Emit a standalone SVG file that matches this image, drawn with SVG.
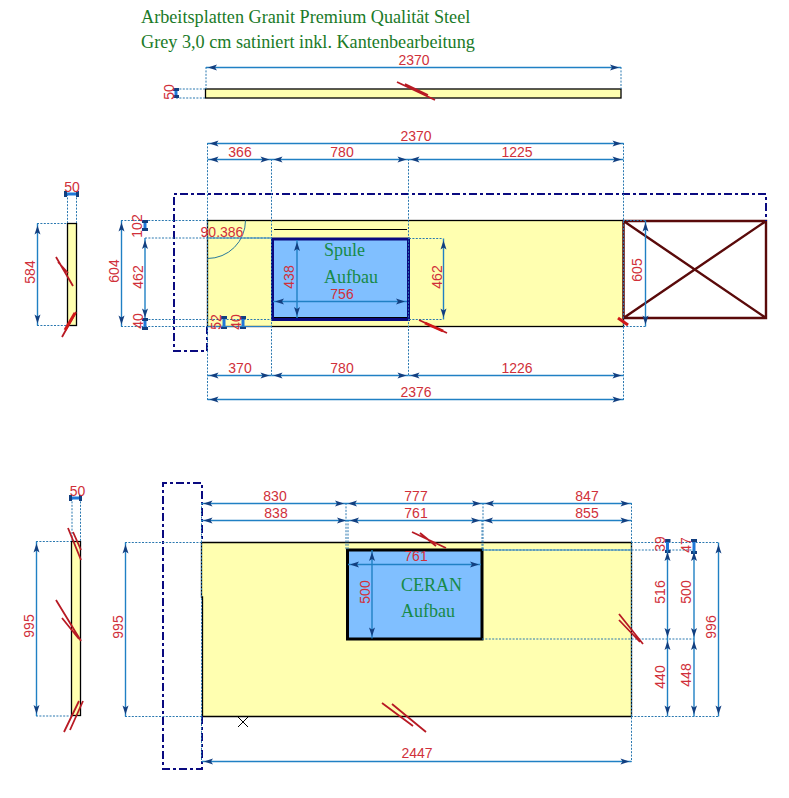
<svg xmlns="http://www.w3.org/2000/svg" width="789" height="798" viewBox="0 0 789 798">
<style>
.slab{fill:#ffffb0;stroke:#000;stroke-width:1.3}
.cut{fill:#80bfff}
.dim{fill:none;stroke:#2080c4;stroke-width:1.4;marker-start:url(#a);marker-end:url(#a)}
.sd{fill:none;stroke:#1f78d8;stroke-width:3;marker-start:url(#k);marker-end:url(#k)}
.ext{fill:none;stroke:#2a78b0;stroke-width:1;stroke-dasharray:2 1.4}
.outl{fill:none;stroke:#0a0a80;stroke-width:2;stroke-dasharray:8 3 3 3}
.brk{fill:none;stroke:#b81a24;stroke-width:1.8}
.brk2{fill:none;stroke:#d01818;stroke-width:3}
text{font-family:"Liberation Sans",Arial,sans-serif;font-size:14px;fill:#d0303a}
.m{text-anchor:middle}
.g{font-family:"Liberation Serif","Times New Roman",serif;font-size:18px;fill:#178a48}
.h{font-family:"Liberation Serif","Times New Roman",serif;font-size:18.2px;fill:#1a7a28}
</style>
<defs>
<marker id="a" viewBox="0 0 12 8" refX="12" refY="4" markerWidth="12" markerHeight="8" markerUnits="userSpaceOnUse" orient="auto-start-reverse"><path d="M10 4L1 1L3 4L1 7Z" fill="#123f80"/></marker>
<marker id="k" viewBox="0 0 4 6" refX="2" refY="3" markerWidth="4" markerHeight="6" markerUnits="userSpaceOnUse" orient="auto"><rect width="3" height="6" fill="#123f80"/></marker>
</defs>
<rect width="789" height="798" fill="#fff"/>

<g id="title">
<text class="h" x="141" y="23">Arbeitsplatten Granit Premium Qualität Steel</text>
<text class="h" x="141" y="48">Grey 3,0 cm satiniert inkl. Kantenbearbeitung</text>
</g>

<g id="strip-top"><rect class="slab" x="205.5" y="89" width="415.5" height="9"/></g>
<g id="side-upper"><rect class="slab" x="67.5" y="223.5" width="9" height="102"/></g>
<g id="worktop-upper"><rect class="slab" x="207.5" y="220.5" width="416" height="106"/>
<path d="M274 229.5H407" stroke="#000" stroke-width="1.2"/>
<path d="M245.5 220.5A38 38 0 0 1 207.5 258.5" fill="none" stroke="#2a7a9a"/></g>
<g id="sink"><rect class="cut" x="272.5" y="239" width="136" height="80.5" stroke="#0a0a80" stroke-width="3"/>
<path d="M274 317.5H407" stroke="#000" stroke-width="1"/>
<text class="g" x="324" y="256">Spule</text><text class="g" x="324" y="283">Aufbau</text></g>
<g id="appliance"><path d="M623.5 221H766V318H623.5ZM623.5 221L766 318M623.5 318L766 221" fill="none" stroke="#5a0a0a" stroke-width="2.4"/></g>
<g id="outline-upper"><path class="outl" d="M207 326V351H174V194H766V221"/></g>

<g id="side-lower"><rect class="slab" x="71.5" y="541.5" width="9" height="174"/></g>
<g id="worktop-lower"><path class="slab" d="M201.5 542.5V597H202.5V716.5H631.5V542.5Z"/>
<path d="M238 717L248 727M248 717L238 727" stroke="#000"/></g>
<g id="ceran"><rect class="cut" x="347.5" y="550" width="134.5" height="89" stroke="#000" stroke-width="3"/>
<text class="g" x="401" y="591">CERAN</text><text class="g" x="401" y="617">Aufbau</text></g>
<g id="outline-lower"><path class="outl" d="M202 716V769H163V483H202V542"/></g>

<g id="connectors">
<path class="ext" d="M206 67V89M621 67V89M176 89H205M176 98H205"/>
<path class="dim" d="M206 67.5H621"/><path class="sd" d="M176 90V97"/>

<path class="ext" d="M207.5 143V400M623.5 143V400M271.5 159V375M408.5 159V375M121 220.5H207M145 238H272M145 319.5H272M121 326.5H207M623 220.5H645.5M623 326.5H645.5M409 238.5H443M409 319.5H443M67.5 194V223M76.5 194V223M37 223.5H67M37 325.5H67"/>
<path class="dim" d="M207.5 143.5H623.5"/>
<path class="dim" d="M207.5 159.5H271.5"/><path class="dim" d="M271.5 159.5H408.5"/><path class="dim" d="M408.5 159.5H623.5"/>
<path class="dim" d="M207.5 375.5H271.5"/><path class="dim" d="M271.5 375.5H408.5"/><path class="dim" d="M408.5 375.5H623.5"/>
<path class="dim" d="M207.5 399.5H623.5"/>
<path class="dim" d="M37.5 223.5V325.5"/><path class="sd" d="M66 194H78"/>
<path class="dim" d="M121.5 220.5V326.5"/>
<path class="sd" d="M145 222V230"/><path class="dim" d="M145 238V319.5"/><path class="sd" d="M145 320V329"/>
<path class="sd" d="M224 318V328"/><path class="sd" d="M243 318V328"/>
<path class="dim" d="M297 240V318"/><path class="dim" d="M273 301.5H407"/>
<path class="dim" d="M443.5 238.5V319.5"/><path class="dim" d="M645.5 220.5V326.5"/>
<path d="M207.5 238H272M207.5 326.5H272" stroke="#2a80c4" fill="none"/>

<path class="ext" d="M72 498V541M80.5 498V541M36 541.5H71M36 716H71M125 542.5H202M125 716.5H202M201.5 503V762M631.5 503V762M346 503V550M483 503V550M348 520V550M482 520V550M631 542.5H718.5M482 550H694M482 639H694M631 716.5H718.5"/>
<path class="dim" d="M201.5 503.5H346"/><path class="dim" d="M346 503.5H483"/><path class="dim" d="M483 503.5H631.5"/>
<path class="dim" d="M201.5 520.5H348"/><path class="dim" d="M348 520.5H482"/><path class="dim" d="M482 520.5H631.5"/>
<path class="dim" d="M348 564.5H481"/><path class="dim" d="M372 550V638.5"/>
<path class="dim" d="M36.5 541.5V716"/><path class="sd" d="M71 498H81"/>
<path class="dim" d="M125.5 542.5V716.5"/>
<path class="dim" d="M202 761.5H631.5"/>
<path class="sd" d="M667.5 541V552"/><path class="dim" d="M667.5 550V639"/><path class="dim" d="M667.5 639V716.5"/>
<path class="sd" d="M694 541V553"/><path class="dim" d="M694 550V639"/><path class="dim" d="M694 639V716.5"/>
<path class="dim" d="M718.5 542.5V716.5"/>
<path d="M482 550H632" stroke="#2a80c4" fill="none"/>
</g>

<g id="breaks">
<path class="brk" d="M397 82L435 100M405 84L428 95"/>
<path class="brk" d="M56 257L73 286M58 262L68 273M62 337L76 312"/><path class="brk2" d="M65 330L75 313"/>
<path class="brk" d="M419 320L447 333"/><path class="brk2" d="M425 323L443 331"/>
<path class="brk2" d="M618 318L628 325"/>
<path class="brk" d="M68 528L81 560M73 532L81 550M56 600L81 641M62 618L79 639M64 732L79 701M70 730L83 701"/>
<path class="brk" d="M412 532L446 548M420 533L436 546"/>
<path class="brk" d="M382 703L413 726M392 704L426 732"/>
<path class="brk" d="M619 614L643 644M619 620L640 642"/>
</g>

<g id="labels">
<text class="m" x="414" y="65">2370</text>
<text class="m" transform="rotate(-90 174 92)" x="174" y="92">50</text>
<text class="m" x="416" y="141">2370</text>
<text class="m" x="240" y="157">366</text><text class="m" x="342" y="157">780</text><text class="m" x="517" y="157">1225</text>
<text class="m" x="240" y="373">370</text><text class="m" x="342" y="373">780</text><text class="m" x="517" y="373">1226</text>
<text class="m" x="416" y="397">2376</text>
<text class="m" x="72" y="192">50</text>
<text class="m" transform="rotate(-90 35 272)" x="35" y="272">584</text>
<text class="m" transform="rotate(-90 119 271)" x="119" y="271">604</text>
<text class="m" transform="rotate(-90 142 226)" x="142" y="226">102</text>
<text class="m" transform="rotate(-90 143 277)" x="143" y="277">462</text>
<text class="m" transform="rotate(-90 143 321)" x="143" y="321">40</text>
<text class="m" transform="rotate(-90 221 322)" x="221" y="322">52</text>
<text class="m" transform="rotate(-90 241 322)" x="241" y="322">40</text>
<text class="m" x="222" y="237">90.386</text>
<text class="m" transform="rotate(-90 294 277)" x="294" y="277">438</text>
<text class="m" x="342" y="299">756</text>
<text class="m" transform="rotate(-90 442 277)" x="442" y="277">462</text>
<text class="m" transform="rotate(-90 642 270)" x="642" y="270">605</text>

<text class="m" x="275" y="501">830</text><text class="m" x="416" y="501">777</text><text class="m" x="587" y="501">847</text>
<text class="m" x="276" y="518">838</text><text class="m" x="416" y="518">761</text><text class="m" x="587" y="518">855</text>
<text class="m" x="416" y="561">761</text>
<text class="m" transform="rotate(-90 370 592)" x="370" y="592">500</text>
<text class="m" x="77.5" y="496">50</text>
<text class="m" transform="rotate(-90 34 626)" x="34" y="626">995</text>
<text class="m" transform="rotate(-90 123 627)" x="123" y="627">995</text>
<text class="m" x="417" y="758">2447</text>
<text class="m" transform="rotate(-90 665 544)" x="665" y="544">39</text>
<text class="m" transform="rotate(-90 691 545)" x="691" y="545">47</text>
<text class="m" transform="rotate(-90 665 592)" x="665" y="592">516</text>
<text class="m" transform="rotate(-90 691 592)" x="691" y="592">500</text>
<text class="m" transform="rotate(-90 665 677)" x="665" y="677">440</text>
<text class="m" transform="rotate(-90 691 675)" x="691" y="675">448</text>
<text class="m" transform="rotate(-90 716 627)" x="716" y="627">996</text>
</g>
</svg>
